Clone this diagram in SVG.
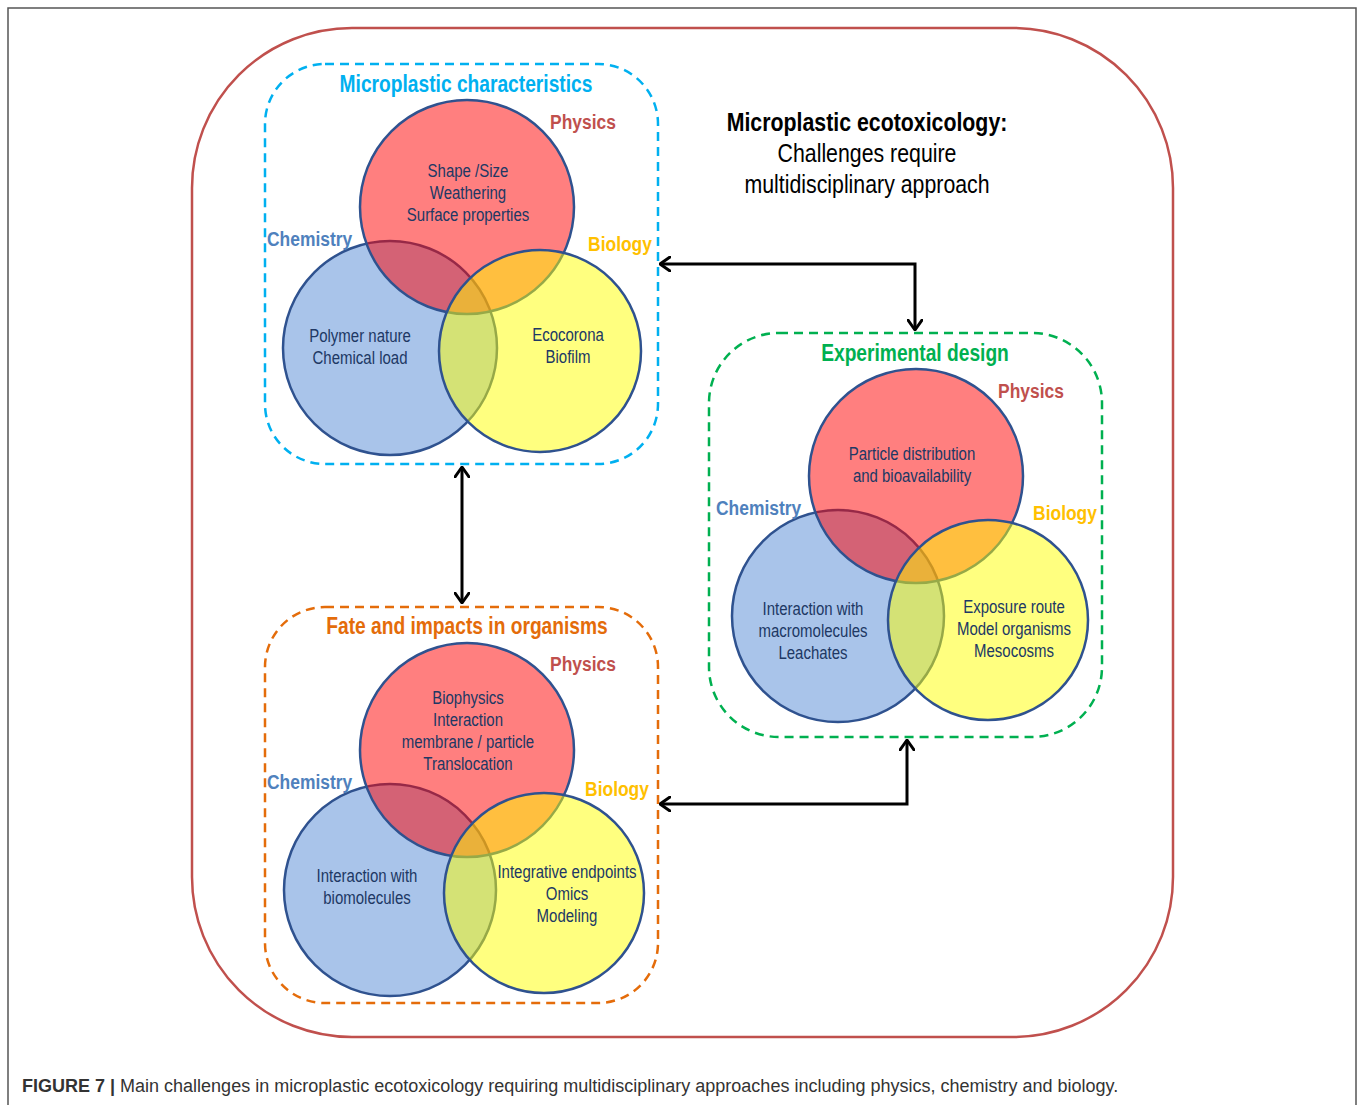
<svg xmlns="http://www.w3.org/2000/svg" width="1358" height="1105" viewBox="0 0 1358 1105">
<defs>
<marker id="ah" viewBox="0 0 12 16" refX="11" refY="8" markerWidth="12" markerHeight="16" markerUnits="userSpaceOnUse" orient="auto-start-reverse">
<path d="M1,1 L11,8 L1,15" fill="none" stroke="#000" stroke-width="3" stroke-linecap="round" stroke-linejoin="round"/>
</marker>
</defs>
<style>
.nar{font-family:"Liberation Sans Narrow","Arial Narrow","Liberation Sans",sans-serif}
.ct{font-size:18.5px;fill:#203864;text-anchor:middle}
.lab{font-size:21px;font-weight:bold}
.phy{fill:#C0504D}
.che{fill:#4F81BD}
.bio{fill:#FFC000}
.ttl{font-size:24px;font-weight:bold;text-anchor:middle}
.mt{font-size:26px;fill:#000;text-anchor:middle}
.cb{fill:#A9C4EA;stroke:#2F528F;stroke-width:2.5}
.cr{fill:#FF0000;fill-opacity:0.5;stroke:#2F528F;stroke-width:2.5}
.cy{fill:#FFFF00;fill-opacity:0.5;stroke:#2F528F;stroke-width:2.5}
.box{fill:none;stroke-width:2.5;stroke-dasharray:9 6}
.conn{fill:none;stroke:#000;stroke-width:3;marker-start:url(#ah);marker-end:url(#ah)}
</style>
<rect x="0" y="0" width="1358" height="1105" fill="#fff"/>
<rect x="8" y="8" width="1348" height="1120" fill="none" stroke="#555" stroke-width="1.5"/>
<rect x="192" y="28" width="981" height="1009" rx="160" ry="160" fill="none" stroke="#C0504D" stroke-width="2.5"/>

<g id="main-title" class="nar">
<text class="mt" font-weight="bold" transform="translate(867,0) scale(0.82,1)" x="0" y="131">Microplastic ecotoxicology:</text>
<text class="mt" transform="translate(867,0) scale(0.82,1)" x="0" y="162">Challenges require</text>
<text class="mt" transform="translate(867,0) scale(0.82,1)" x="0" y="193">multidisciplinary approach</text>
</g>

<g id="microplastic-characteristics">
<rect class="box" x="265" y="64" width="393" height="400" rx="60" ry="60" stroke="#00B0F0"/>
<text class="nar ttl" transform="translate(466,0) scale(0.8,1)" x="0" y="92" fill="#00B0F0">Microplastic characteristics</text>
<circle class="cb" cx="390" cy="348" r="107"/>
<circle class="cr" cx="467" cy="207" r="107"/>
<circle class="cy" cx="540" cy="351" r="101"/>
<text class="nar lab phy" transform="translate(583,0) scale(0.83,1)" x="0" y="129" text-anchor="middle">Physics</text>
<text class="nar lab che" transform="translate(267,0) scale(0.83,1)" x="0" y="246">Chemistry</text>
<text class="nar lab bio" transform="translate(620,0) scale(0.83,1)" x="0" y="251" text-anchor="middle">Biology</text>
<text class="nar ct" transform="translate(468,0) scale(0.81,1)" x="0" y="177">Shape /Size</text>
<text class="nar ct" transform="translate(468,0) scale(0.81,1)" x="0" y="199">Weathering</text>
<text class="nar ct" transform="translate(468,0) scale(0.81,1)" x="0" y="221">Surface properties</text>
<text class="nar ct" transform="translate(360,0) scale(0.81,1)" x="0" y="342">Polymer  nature</text>
<text class="nar ct" transform="translate(360,0) scale(0.81,1)" x="0" y="364">Chemical load</text>
<text class="nar ct" transform="translate(568,0) scale(0.81,1)" x="0" y="341">Ecocorona</text>
<text class="nar ct" transform="translate(568,0) scale(0.81,1)" x="0" y="363">Biofilm</text>
</g>

<g id="experimental-design">
<rect class="box" x="709" y="333" width="393" height="404" rx="70" ry="70" stroke="#00B050"/>
<text class="nar ttl" transform="translate(915,0) scale(0.8,1)" x="0" y="361" fill="#00B050">Experimental design</text>
<circle class="cb" cx="838" cy="616" r="106"/>
<circle class="cr" cx="916" cy="476" r="107"/>
<circle class="cy" cx="988" cy="620" r="100"/>
<text class="nar lab phy" transform="translate(1031,0) scale(0.83,1)" x="0" y="398" text-anchor="middle">Physics</text>
<text class="nar lab che" transform="translate(716,0) scale(0.83,1)" x="0" y="515">Chemistry</text>
<text class="nar lab bio" transform="translate(1065,0) scale(0.83,1)" x="0" y="520" text-anchor="middle">Biology</text>
<text class="nar ct" transform="translate(912,0) scale(0.81,1)" x="0" y="460">Particle distribution</text>
<text class="nar ct" transform="translate(912,0) scale(0.81,1)" x="0" y="482">and bioavailability</text>
<text class="nar ct" transform="translate(813,0) scale(0.81,1)" x="0" y="615">Interaction  with</text>
<text class="nar ct" transform="translate(813,0) scale(0.81,1)" x="0" y="637">macromolecules</text>
<text class="nar ct" transform="translate(813,0) scale(0.81,1)" x="0" y="659">Leachates</text>
<text class="nar ct" transform="translate(1014,0) scale(0.81,1)" x="0" y="613">Exposure route</text>
<text class="nar ct" transform="translate(1014,0) scale(0.81,1)" x="0" y="635">Model organisms</text>
<text class="nar ct" transform="translate(1014,0) scale(0.81,1)" x="0" y="657">Mesocosms</text>
</g>

<g id="fate-and-impacts">
<rect class="box" x="265" y="607" width="393" height="396" rx="60" ry="60" stroke="#E46C0A"/>
<text class="nar ttl" transform="translate(467,0) scale(0.8,1)" x="0" y="634" fill="#E46C0A">Fate and impacts in organisms</text>
<circle class="cb" cx="390" cy="890" r="106"/>
<circle class="cr" cx="467" cy="750" r="107"/>
<circle class="cy" cx="544" cy="893" r="100"/>
<text class="nar lab phy" transform="translate(583,0) scale(0.83,1)" x="0" y="671" text-anchor="middle">Physics</text>
<text class="nar lab che" transform="translate(267,0) scale(0.83,1)" x="0" y="789">Chemistry</text>
<text class="nar lab bio" transform="translate(617,0) scale(0.83,1)" x="0" y="796" text-anchor="middle">Biology</text>
<text class="nar ct" transform="translate(468,0) scale(0.81,1)" x="0" y="704">Biophysics</text>
<text class="nar ct" transform="translate(468,0) scale(0.81,1)" x="0" y="726">Interaction</text>
<text class="nar ct" transform="translate(468,0) scale(0.81,1)" x="0" y="748">membrane / particle</text>
<text class="nar ct" transform="translate(468,0) scale(0.81,1)" x="0" y="770">Translocation</text>
<text class="nar ct" transform="translate(367,0) scale(0.81,1)" x="0" y="882">Interaction  with</text>
<text class="nar ct" transform="translate(367,0) scale(0.81,1)" x="0" y="904">biomolecules</text>
<text class="nar ct" transform="translate(567,0) scale(0.81,1)" x="0" y="878">Integrative endpoints</text>
<text class="nar ct" transform="translate(567,0) scale(0.81,1)" x="0" y="900">Omics</text>
<text class="nar ct" transform="translate(567,0) scale(0.81,1)" x="0" y="922">Modeling</text>
</g>

<g id="connectors">
<path class="conn" d="M660,264 L915,264 L915,330"/>
<path class="conn" d="M462,467 L462,603"/>
<path class="conn" d="M907,740 L907,804 L660,804"/>
</g>

<g id="caption">
<text x="22" y="1092" font-family="Liberation Sans, Arial, sans-serif" font-size="18" fill="#333"><tspan font-weight="bold">FIGURE 7 |</tspan> Main challenges in microplastic ecotoxicology requiring multidisciplinary approaches including physics, chemistry and biology.</text>
</g>
</svg>
